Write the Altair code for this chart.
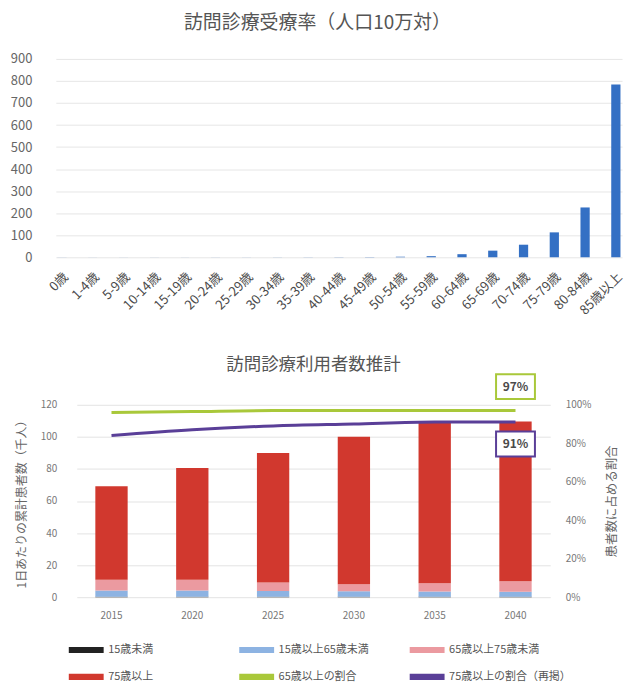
import altair as alt
import pandas as pd

FONT = "Noto Sans CJK JP"

# --- 訪問診療受療率（人口10万対） ---
age_groups = ["0歳", "1-4歳", "5-9歳", "10-14歳", "15-19歳", "20-24歳", "25-29歳",
              "30-34歳", "35-39歳", "40-44歳", "45-49歳", "50-54歳", "55-59歳",
              "60-64歳", "65-69歳", "70-74歳", "75-79歳", "80-84歳", "85歳以上"]
rate_per_100k = [0.3, 0.2, 0.2, 0.2, 0.2, 0.3, 0.3, 0.4, 0.5, 0.7, 1.0, 2.5, 5,
                 14, 30, 57, 113, 226, 784]

# --- 訪問診療利用者数推計（千人/日） ---
years = ["2015", "2020", "2025", "2030", "2035", "2040"]
under_15 = [0.2, 0.2, 0.2, 0.2, 0.2, 0.2]
age_15_64 = [4.0, 3.9, 3.7, 3.5, 3.3, 3.2]
age_65_74 = [6.6, 6.7, 5.2, 4.4, 5.2, 6.6]
age_75_plus = [58.4, 69.8, 80.9, 91.9, 100.0, 99.6]

# 割合（%）
share_65_plus = [96, 96.5, 97, 97, 97, 97]
share_75_plus = [84, 87, 89, 90, 91, 91]

bar_series = ["15歳未満", "15歳以上65歳未満", "65歳以上75歳未満", "75歳以上"]
line_series = ["65歳以上の割合", "75歳以上の割合（再掲）"]
series_colors = ["#222222", "#8db3e2", "#eb9aa0", "#d1382e", "#a9c83a", "#5a3f98"]

rate_df = pd.DataFrame({"age": age_groups, "rate": rate_per_100k})

rows = []
for s_idx, (name, vals) in enumerate(zip(bar_series, [under_15, age_15_64, age_65_74, age_75_plus])):
    for y, v in zip(years, vals):
        rows.append({"year": y, "series": name, "value": v, "rank": s_idx})
users_df = pd.DataFrame(rows)

rows = []
for name, vals in zip(line_series, [share_65_plus, share_75_plus]):
    for y, v in zip(years, vals):
        rows.append({"year": y, "series": name, "share": v})
share_df = pd.DataFrame(rows)


def spacer(w):
    """Empty, invisible view used to indent a row of the layout."""
    return alt.Chart(pd.DataFrame({"v": [0]})).mark_point(opacity=0).encode(
        x=alt.X("v:Q", axis=None), y=alt.Y("v:Q", axis=None)
    ).properties(width=w, height=1)


# ---------------- top chart ----------------
top = alt.Chart(rate_df).mark_bar(color="#3470c4").encode(
    x=alt.X("age:N", sort=age_groups,
            scale=alt.Scale(paddingInner=0.7, paddingOuter=0.05),
            axis=alt.Axis(title=None, labelAngle=-45, labelFontSize=13, labelColor="#4a4a4a",
                          labelFont=FONT, domain=False, ticks=False, labelPadding=13, grid=False)),
    y=alt.Y("rate:Q", scale=alt.Scale(domain=[0, 900], nice=False),
            axis=alt.Axis(title=None, values=list(range(0, 901, 100)), domain=False, ticks=False,
                          labelPadding=24, gridColor="#e6e6e6", labelFontSize=13,
                          labelColor="#666666", labelFont=FONT)),
).properties(
    width=568, height=199,
    title=alt.TitleParams("訪問診療受療率（人口10万対）", fontSize=19, font=FONT,
                          color="#555555", fontWeight="normal", offset=20, frame="bounds"),
)

# ---------------- bottom chart ----------------
color_scale = alt.Scale(domain=bar_series + line_series, range=series_colors)
legend = alt.Legend(
    title=None, orient="none", legendX=75.5, legendY=582, columns=3, direction="horizontal",
    symbolType="M-1.59,-0.28H1.59V0.28H-1.59Z", symbolSize=484, symbolStrokeWidth=0,
    labelFont=FONT, labelFontSize=11, labelColor="#555555", labelOffset=11,
    gridAlign="all", columnPadding=8, rowPadding=11, labelLimit=200,
)

x_enc = alt.X("year:O", scale=alt.Scale(paddingInner=0.6, paddingOuter=0.23),
              axis=alt.Axis(title=None, labelAngle=0, domain=False, ticks=False, labelPadding=13,
                            labelFontSize=10, labelColor="#777777", labelFont=FONT))

right_axis = alt.Axis(orient="right", title="患者数に占める割合", titleAngle=270,
                      values=[0, 20, 40, 60, 80, 100], labelExpr="datum.value + '%'",
                      grid=False, domain=False, ticks=False, labelPadding=15,
                      labelFontSize=10, labelColor="#777777", labelFont=FONT,
                      titleFont=FONT, titleFontSize=12.5, titleColor="#666666",
                      titleFontWeight="normal", titlePadding=28)
share_y = alt.Y("share:Q", scale=alt.Scale(domain=[0, 100], nice=False), axis=right_axis)

bars = alt.Chart(users_df).mark_bar().encode(
    x=x_enc,
    y=alt.Y("value:Q", stack="zero", scale=alt.Scale(domain=[0, 120], nice=False),
            axis=alt.Axis(title="1日あたりの累計患者数（千人）", values=list(range(0, 121, 20)),
                          domain=False, ticks=False, gridColor="#e3e3e3", labelPadding=20,
                          labelFontSize=10, labelColor="#777777", labelFont=FONT,
                          titleFont=FONT, titleFontSize=12, titleColor="#666666",
                          titleFontWeight="normal", titlePadding=12)),
    color=alt.Color("series:N", scale=color_scale, legend=legend),
    order=alt.Order("rank:Q"),
)

lines = alt.Chart(share_df).mark_line(strokeWidth=3, interpolate="monotone").encode(
    x=x_enc,
    y=share_y,
    color=alt.Color("series:N", scale=color_scale, legend=legend),
)

# end-of-line value callouts
last_df = pd.DataFrame({
    "year": [years[-1], years[-1]],
    "series": line_series,
    "share": [share_65_plus[-1], share_75_plus[-1]],
})
last_df["label"] = last_df["share"].map(lambda v: f"{v:.0f}%")

callouts = []
for name, dy, stroke in [(line_series[0], -24, series_colors[4]), (line_series[1], 22, series_colors[5])]:
    sub = alt.Chart(last_df).transform_filter(alt.datum.series == name)
    box = sub.mark_point(shape="M-0.78,-0.5H0.78V0.5H-0.78Z", size=2500, filled=False,
                         fill="white", fillOpacity=1, stroke=stroke, strokeWidth=2,
                         opacity=1, yOffset=dy).encode(x=x_enc, y=share_y)
    txt = sub.mark_text(font=FONT, fontSize=12, fontWeight="bold", color="#4a4a4a",
                        yOffset=dy).encode(x=x_enc, y=share_y, text="label:N")
    callouts += [box, txt]

share_layer = alt.layer(lines, *callouts)

bottom = alt.layer(bars, share_layer).resolve_scale(y="independent").properties(
    width=475, height=193,
    title=alt.TitleParams("訪問診療利用者数推計", fontSize=17.5, font=FONT,
                          color="#555555", fontWeight="normal", offset=-3),
)

top_row = alt.hconcat(spacer(10), top, spacing=0)
bottom_row = alt.hconcat(spacer(15), bottom, spacing=0)

chart = alt.vconcat(top_row, bottom_row, spacing=38).properties(
    padding={"left": 0, "top": 13, "right": 0, "bottom": 0},
    background="white",
).configure_view(stroke=None)

chart.save("out.html", embed_options={"renderer": "svg", "actions": False})
